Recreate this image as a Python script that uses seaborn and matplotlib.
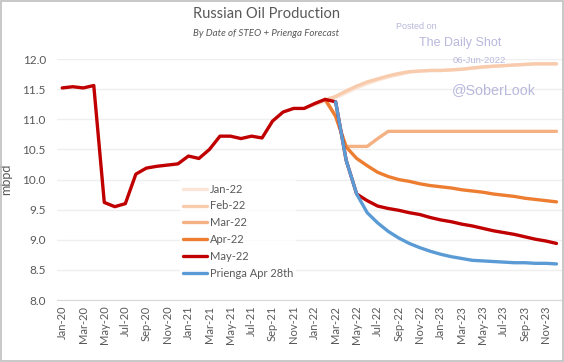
import matplotlib
matplotlib.use("Agg")
import matplotlib.pyplot as plt
import pandas as pd
import seaborn as sns
from matplotlib.patches import Rectangle
from matplotlib.ticker import FixedLocator

# Month axis: Jan-20 .. Dec-23
months = pd.date_range("2020-01-01", periods=48, freq="MS").strftime("%b-%y").tolist()

# History (Jan-20 .. Mar-22) shared by the May-22 STEO line
history = [11.52, 11.54, 11.52, 11.56, 9.62, 9.55, 9.60, 10.09, 10.19, 10.22, 10.24, 10.26,
           10.39, 10.35, 10.50, 10.72, 10.72, 10.68, 10.72, 10.69, 10.97, 11.12, 11.18, 11.18,
           11.26, 11.33, 11.29]

# STEO vintages (value lists start at the given month)
jan22_start = "Dec-21"
jan22 = [11.18, 11.24, 11.30, 11.36, 11.44, 11.52, 11.59, 11.65, 11.70, 11.74, 11.78, 11.80,
         11.81, 11.81, 11.82, 11.83, 11.85, 11.86, 11.88, 11.89, 11.90, 11.91, 11.92, 11.92, 11.92]

feb22_start = "Jan-22"
feb22 = [11.26, 11.32, 11.38, 11.47, 11.55, 11.62, 11.67, 11.72, 11.76, 11.79, 11.80, 11.81,
         11.81, 11.82, 11.83, 11.85, 11.87, 11.88, 11.89, 11.90, 11.91, 11.92, 11.92, 11.92]

mar22_start = "Feb-22"
mar22 = [11.33, 11.05, 10.55, 10.55, 10.55, 10.68, 10.80, 10.80, 10.80, 10.80, 10.80, 10.80,
         10.80, 10.80, 10.80, 10.80, 10.80, 10.80, 10.80, 10.80, 10.80, 10.80, 10.80]

apr22_start = "Feb-22"
apr22 = [11.33, 11.05, 10.54, 10.35, 10.23, 10.12, 10.05, 10.00, 9.97, 9.93, 9.90, 9.88,
         9.86, 9.83, 9.81, 9.79, 9.76, 9.74, 9.72, 9.69, 9.67, 9.65, 9.63]

may22_start = "Jan-20"
may22 = history + [10.32, 9.76, 9.65, 9.56, 9.52, 9.49, 9.45, 9.42, 9.37, 9.33, 9.30, 9.26,
                   9.23, 9.19, 9.15, 9.12, 9.09, 9.05, 9.01, 8.98, 8.94]

prienga_start = "Mar-22"
prienga = [11.29, 10.32, 9.76, 9.45, 9.28, 9.14, 9.03, 8.94, 8.87, 8.81, 8.76, 8.72,
           8.69, 8.66, 8.65, 8.64, 8.63, 8.62, 8.62, 8.61, 8.61, 8.60]

series = [
    ("Jan-22", jan22_start, jan22, "#FBE5D6"),
    ("Feb-22", feb22_start, feb22, "#F8CBAD"),
    ("Mar-22", mar22_start, mar22, "#F4B183"),
    ("Apr-22", apr22_start, apr22, "#ED7D31"),
    ("May-22", may22_start, may22, "#C00000"),
    ("Prienga Apr 28th", prienga_start, prienga, "#5B9BD5"),
]

sns.set_style("white")
plt.rcParams["font.family"] = ["Lato", "DejaVu Sans"]

fig = plt.figure(figsize=(5.64, 3.62), dpi=100)
ax = fig.add_axes([0.101, 0.171, 0.895, 0.666])

text_col = "#595959"
for name, start, vals, col in series:
    i0 = months.index(start)
    d = pd.DataFrame({"x": range(i0, i0 + len(vals)), "y": vals})
    sns.lineplot(data=d, x="x", y="y", ax=ax, color=col, linewidth=2.4,
                 label=name, solid_capstyle="round")

ax.set_xlim(-0.5, 47.5)
ax.set_ylim(8.0, 12.0)
ax.set_yticks([8.0 + 0.5 * k for k in range(9)])
ax.set_yticklabels([f"{8.0 + 0.5 * k:.1f}" for k in range(9)])
ax.yaxis.grid(True, color="#EFEFEF", linewidth=1)
ax.set_axisbelow(True)

ax.set_xticks(range(0, 48, 2))
ax.set_xticklabels(months[::2], rotation=90)
ax.xaxis.set_minor_locator(FixedLocator([-0.5 + 2 * k for k in range(25)]))
ax.tick_params(axis="x", which="major", length=0, pad=4, labelsize=8, labelcolor=text_col)
ax.tick_params(axis="x", which="minor", length=4, color="#D9D9D9", width=0.8)
ax.tick_params(axis="y", length=0, pad=8, labelsize=8.5, labelcolor=text_col)

for s in ["top", "right", "left"]:
    ax.spines[s].set_visible(False)
ax.spines["bottom"].set_color("#D9D9D9")

ax.set_xlabel("")
ax.set_ylabel("mbpd", fontsize=9, color=text_col)
ax.yaxis.set_label_coords(-0.088, 0.5)

leg = ax.legend(loc="upper left", bbox_to_anchor=(0.232, 0.52), frameon=True,
                fontsize=8, handlelength=2.2, handletextpad=0.2, labelspacing=0.52,
                borderpad=0.3, fancybox=False)
leg.get_frame().set_facecolor("white")
leg.get_frame().set_edgecolor("none")
for t in leg.get_texts():
    t.set_color(text_col)

fig.text(0.472, 0.96, "Russian Oil Production", ha="center", va="center",
         fontsize=10.5, color=text_col)
fig.text(0.472, 0.908, "By Date of STEO + Prienga Forecast", ha="center", va="center",
         fontsize=7, style="italic", color=text_col)

wm = "#B8B8DC"
wfont = ["Liberation Sans", "DejaVu Sans"]
fig.text(0.702, 0.928, "Posted on", fontsize=6.5, color=wm, family=wfont, va="center")
fig.text(0.743, 0.880, "The Daily Shot", fontsize=9, color=wm, family=wfont, va="center")
fig.text(0.802, 0.833, "06-Jun-2022", fontsize=6.8, color=wm, family=wfont, va="center")
fig.text(0.802, 0.750, "@SoberLook", fontsize=10.3, color=wm, family=wfont, va="center")

fig.patches.append(Rectangle((0.001, 0.002), 0.997, 0.995, transform=fig.transFigure,
                             fill=False, edgecolor="#BFBFBF", linewidth=1.2))

fig.savefig("out.png", dpi=100)
